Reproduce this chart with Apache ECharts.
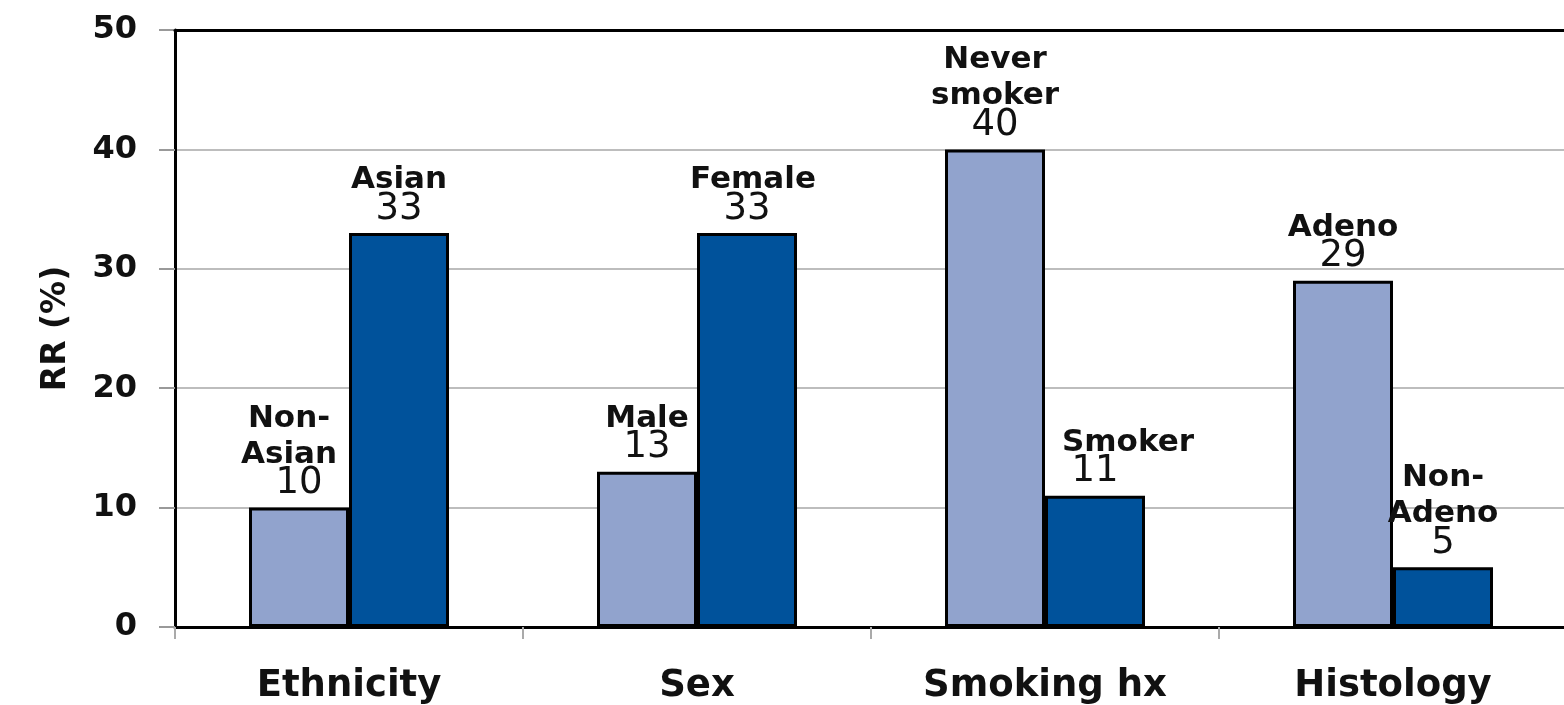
<!DOCTYPE html>
<html>
<head>
<meta charset="utf-8">
<script src="https://cdn.jsdelivr.net/npm/echarts@6/dist/echarts.min.js"></script>
<style>
  html, body { margin: 0; padding: 0; background: #fff; overflow: hidden; }
  #chart { width: 1567px; height: 705px; }
</style>
</head>
<body>
<div id="chart"></div>
<script>
// Response rate (%) by patient subgroup
const categories = ['Ethnicity', 'Sex', 'Smoking hx', 'Histology'];
const firstValues = [10, 13, 40, 29];
const firstNames = ['Non-\nAsian', 'Male', 'Never\nsmoker', 'Adeno'];
const secondValues = [33, 33, 11, 5];
const secondNames = ['Asian', 'Female', 'Smoker', 'Non-\nAdeno'];
const yTicks = [0, 10, 20, 30, 40, 50];

const FONT = 'DejaVu Sans';
const LIGHT = '#91a3cd';
const DARK = '#00529b';

// horizontal nudges (px) for a few subgroup names
const nameShift = { 'Smoker': 33, 'Female': 6, 'Non-\nAsian': -10 };

function baseRich() {
  return {
    n: { fontFamily: FONT, fontWeight: 'bold', fontSize: 31, lineHeight: 36, color: '#111' },
    v: { fontFamily: FONT, fontWeight: 'normal', fontSize: 37, lineHeight: 22, color: '#111' }
  };
}

function buildData(values, names) {
  return values.map((v, i) => {
    const name = names[i];
    const shift = nameShift[name] || 0;
    const rich = baseRich();
    if (shift > 0) rich.n.padding = [0, 0, 0, shift * 2];
    if (shift < 0) rich.n.padding = [0, -shift * 2, 0, 0];
    const lines = name.split('\n').map(s => '{n|' + s + '}');
    lines.push('{v|' + v + '}');
    return {
      value: v,
      label: { formatter: lines.join('\n'), rich: rich }
    };
  });
}

const chart = echarts.init(document.getElementById('chart'));
chart.setOption({
  animation: false,
  backgroundColor: '#fff',
  grid: { left: 175, right: 0, top: 30, bottom: 77 },
  xAxis: [
    {
      type: 'category',
      data: categories,
      axisLine: { show: true, lineStyle: { color: '#000', width: 3 } },
      axisTick: { show: true, alignWithLabel: false, length: 12, lineStyle: { color: '#aaa', width: 2 } },
      axisLabel: { fontFamily: FONT, fontWeight: 'bold', fontSize: 37, color: '#111', margin: 41 },
      splitLine: { show: false }
    },
    {
      // frame line along the top of the plot
      type: 'category',
      data: categories,
      position: 'top',
      z: 5,
      axisLine: { show: true, lineStyle: { color: '#000', width: 3 } },
      axisTick: { show: false },
      axisLabel: { show: false },
      splitLine: { show: false }
    }
  ],
  yAxis: {
    type: 'value',
    min: yTicks[0],
    max: yTicks[yTicks.length - 1],
    interval: 10,
    name: 'RR (%)',
    nameLocation: 'middle',
    nameGap: 102,
    nameTextStyle: { fontFamily: FONT, fontWeight: 'bold', fontSize: 33, color: '#111' },
    axisLine: { show: true, lineStyle: { color: '#000', width: 3 } },
    axisTick: { show: true, length: 16, lineStyle: { color: '#999', width: 2 } },
    axisLabel: { fontFamily: FONT, fontWeight: 'bold', fontSize: 32, color: '#111', margin: 38 },
    splitLine: { show: true, lineStyle: { color: '#bdbdbd', width: 2 } }
  },
  series: [
    {
      type: 'bar',
      data: buildData(firstValues, firstNames),
      barWidth: 100,
      barGap: '0%',
      itemStyle: { color: LIGHT, borderColor: '#000', borderWidth: 3 },
      label: { show: true, position: 'top', distance: 13, align: 'center' }
    },
    {
      type: 'bar',
      data: buildData(secondValues, secondNames),
      barWidth: 100,
      barGap: '0%',
      itemStyle: { color: DARK, borderColor: '#000', borderWidth: 3 },
      label: { show: true, position: 'top', distance: 13, align: 'center' }
    }
  ]
});
</script>
</body>
</html>
